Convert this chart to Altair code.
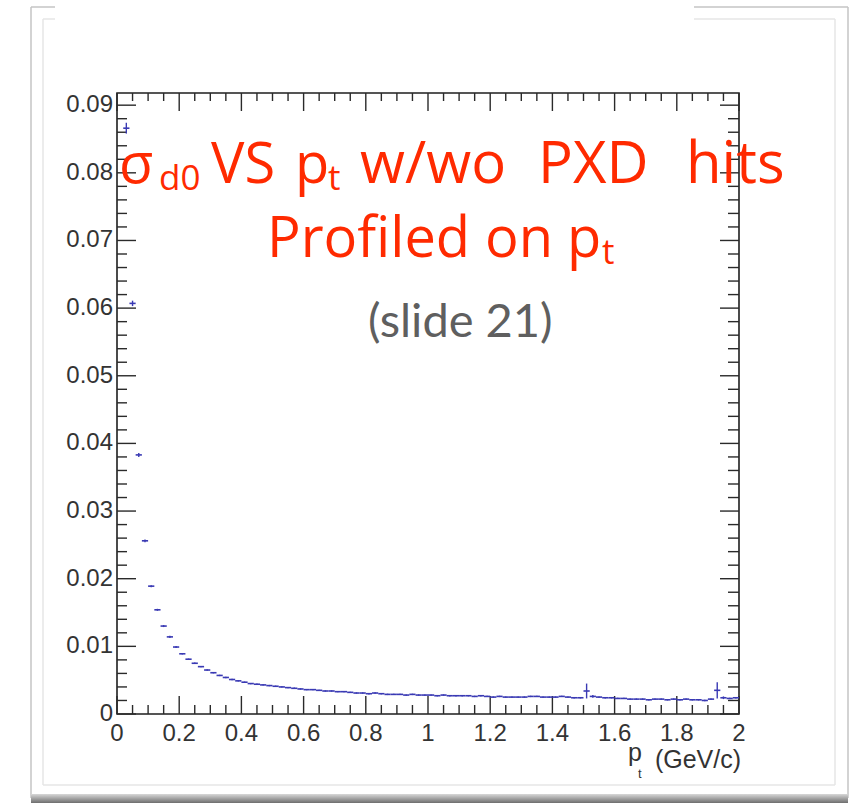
import altair as alt
import pandas as pd

# ---- data: profile of sigma_d0 vs pt (bin centres, mean, error) ----
pt_center = [
    0.03, 0.05, 0.07, 0.09, 0.11, 0.13, 0.15, 0.17, 0.19, 0.21,
    0.23, 0.25, 0.27, 0.29, 0.31, 0.33, 0.35, 0.37, 0.39, 0.41,
    0.43, 0.45, 0.47, 0.49, 0.51, 0.53, 0.55, 0.57, 0.59, 0.61,
    0.63, 0.65, 0.67, 0.69, 0.71, 0.73, 0.75, 0.77, 0.79, 0.81,
    0.83, 0.85, 0.87, 0.89, 0.91, 0.93, 0.95, 0.97, 0.99, 1.01,
    1.03, 1.05, 1.07, 1.09, 1.11, 1.13, 1.15, 1.17, 1.19, 1.21,
    1.23, 1.25, 1.27, 1.29, 1.31, 1.33, 1.35, 1.37, 1.39, 1.41,
    1.43, 1.45, 1.47, 1.49, 1.51, 1.53, 1.55, 1.57, 1.59, 1.61,
    1.63, 1.65, 1.67, 1.69, 1.71, 1.73, 1.75, 1.77, 1.79, 1.81,
    1.83, 1.85, 1.87, 1.89, 1.91, 1.93, 1.95, 1.97, 1.99,
]
sigma_d0 = [
    0.0866, 0.0607, 0.0383, 0.0256, 0.0189, 0.0154, 0.0130, 0.0114, 0.0099, 0.0089,
    0.0081, 0.0075, 0.0070, 0.0065, 0.0061, 0.0057, 0.0054, 0.0051, 0.0049, 0.0047,
    0.0045, 0.0044, 0.0043, 0.0042, 0.0041, 0.0040, 0.0039, 0.0038, 0.0037, 0.0036,
    0.0036, 0.0035, 0.0034, 0.0034, 0.0033, 0.0033, 0.0032, 0.0031, 0.0031, 0.0030,
    0.0031, 0.0030, 0.0029, 0.0029, 0.0029, 0.0028, 0.0029, 0.0028, 0.0028, 0.0028,
    0.0027, 0.0028, 0.0027, 0.0027, 0.0027, 0.0027, 0.0026, 0.0027, 0.0026, 0.0025,
    0.0026, 0.0025, 0.0025, 0.0025, 0.0025, 0.0026, 0.0026, 0.0025, 0.0025, 0.0025,
    0.0026, 0.0025, 0.0024, 0.0024, 0.0034, 0.0026, 0.0025, 0.0024, 0.0024, 0.0023,
    0.0023, 0.0022, 0.0022, 0.0022, 0.0021, 0.0022, 0.0022, 0.0021, 0.0022, 0.0021,
    0.0022, 0.0021, 0.0021, 0.0020, 0.0022, 0.0035, 0.0024, 0.0023, 0.0024,
]
sigma_err = [
    0.0008, 0.0004, 0.0003, 0.0002, 0.00015, 0.00015, 0.00015, 0.00015, 0.00015, 0.0001,
    0.0001, 0.0001, 0.0001, 0.0001, 0.0001, 0.0001, 0.0001, 0.0001, 0.0001, 0.0001,
    0.0001, 0.0001, 0.0001, 0.0001, 0.0001, 0.0001, 0.0001, 0.0001, 0.0001, 0.0001,
    0.0001, 0.0001, 0.0001, 0.0001, 0.0001, 0.0001, 0.0001, 0.0001, 0.0001, 0.0001,
    0.0001, 0.0001, 0.0001, 0.0001, 0.0001, 0.0001, 0.0001, 0.0001, 0.0001, 0.0001,
    0.0001, 0.0001, 0.0001, 0.0001, 0.0001, 0.0001, 0.0001, 0.0001, 0.0001, 0.0001,
    0.0001, 0.0001, 0.0001, 0.0001, 0.0001, 0.0001, 0.0001, 0.0001, 0.0001, 0.0001,
    0.0001, 0.0001, 0.0001, 0.0001, 0.0011, 0.0002, 0.0001, 0.0001, 0.0001, 0.0001,
    0.0001, 0.0001, 0.0001, 0.0001, 0.0001, 0.0001, 0.0001, 0.0001, 0.0001, 0.0001,
    0.0001, 0.0001, 0.0001, 0.0001, 0.0001, 0.0012, 0.0002, 0.0001, 0.0001,
]
bin_half_width = 0.01

x_major_ticks = [0.0, 0.2, 0.4, 0.6, 0.8, 1.0, 1.2, 1.4, 1.6, 1.8, 2.0]
x_tick_labels = ["0", "0.2", "0.4", "0.6", "0.8", "1", "1.2", "1.4", "1.6", "1.8", "2"]
y_major_ticks = [0.0, 0.01, 0.02, 0.03, 0.04, 0.05, 0.06, 0.07, 0.08, 0.09]
y_tick_labels = ["0", "0.01", "0.02", "0.03", "0.04", "0.05", "0.06", "0.07", "0.08", "0.09"]
x_minor_ticks = [round(m + k * 0.05, 3) for m in x_major_ticks[:-1] for k in (1, 2, 3)]
y_minor_ticks = [round(m + k * 0.002, 4) for m in y_major_ticks for k in (1, 2, 3, 4)]
y_minor_ticks = [v for v in y_minor_ticks if v <= 0.0918]

# ---- geometry ----
OX, OY = 117, 93          # plot origin in page pixels
W, H = 622, 621           # plot area
XS = alt.Scale(domain=[0, 2], nice=False, zero=False)
YS = alt.Scale(domain=[0, 0.0918], nice=False, zero=False)
BLUE = "#3a3ab4"
RED = "#ff2a00"
GRAY = "#5f5f5f"
LABEL_FONT = "Liberation Sans"
TITLE_FONT = "Open Sans"

df = pd.DataFrame({"pt": pt_center, "s": sigma_d0, "e": sigma_err})
df["lo_x"] = df["pt"] - bin_half_width
df["hi_x"] = df["pt"] + bin_half_width
df["lo_y"] = df["s"] - df["e"]
df["hi_y"] = df["s"] + df["e"]

one = pd.DataFrame({"a": [0]})


def px(x):
    return x - OX


def py(y):
    return y - OY


def hline(x1, x2, y, color, width=1.5):
    return alt.Chart(one).mark_rule(color=color, strokeWidth=width).encode(
        x=alt.value(px(x1)), x2=alt.value(px(x2)), y=alt.value(py(y)))


def vline(x, y1, y2, color, width=1.5):
    return alt.Chart(one).mark_rule(color=color, strokeWidth=width).encode(
        x=alt.value(px(x)), y=alt.value(py(y1)), y2=alt.value(py(y2)))


def label(txt, x, y, size, color, font=TITLE_FONT, align="left"):
    return alt.Chart(one).mark_text(
        text=txt, align=align, baseline="alphabetic", font=font,
        fontSize=size, color=color).encode(x=alt.value(px(x)), y=alt.value(py(y)))


# ---- slide frame decorations ----
OUT, IN = "#c4c4c4", "#e6e6e6"
deco = [
    vline(31, 7, 798, OUT), vline(848, 7, 798, OUT),
    hline(31, 55, 7, OUT), hline(694, 848, 7, OUT),
    vline(43, 19, 785, IN), vline(835, 19, 785, IN),
    hline(43, 55, 19, IN), hline(694, 835, 19, IN),
    hline(43, 835, 785, IN),
    alt.Chart(one).mark_rect(
        fill=alt.Gradient(gradient="linear", x1=0, y1=0, x2=0, y2=1,
                          stops=[alt.GradientStop(color="#d8d8d8", offset=0),
                                 alt.GradientStop(color="#6e6e6e", offset=1)])
    ).encode(x=alt.value(px(31)), x2=alt.value(px(848)),
             y=alt.value(py(794)), y2=alt.value(py(803))),
]

# ---- ticks (ROOT style, inside, on all four sides) ----
xt_major = pd.DataFrame({"v": x_major_ticks})
xt_minor = pd.DataFrame({"v": x_minor_ticks})
yt_major = pd.DataFrame({"v": y_major_ticks})
yt_minor = pd.DataFrame({"v": y_minor_ticks})
TK = "#2a2a2a"


def xticks(d, length, top):
    y0 = 0 if top else H
    y1 = length if top else H - length
    return alt.Chart(d).mark_rule(color=TK, strokeWidth=1.4).encode(
        x=alt.X("v:Q", scale=XS, axis=None), y=alt.value(y0), y2=alt.value(y1))


def yticks(d, length, right):
    x0 = W if right else 0
    x1 = W - length if right else length
    return alt.Chart(d).mark_rule(color=TK, strokeWidth=1.4).encode(
        y=alt.Y("v:Q", scale=YS, axis=None), x=alt.value(x0), x2=alt.value(x1))


ticks = [
    xticks(xt_major, 18, False), xticks(xt_minor, 9, False),
    xticks(xt_major, 18, True), xticks(xt_minor, 8, True),
    yticks(yt_major, 19, False), yticks(yt_minor, 10, False),
    yticks(yt_major, 19, True), yticks(yt_minor, 11, True),
]

# ---- tick labels ----
xl = pd.DataFrame({"v": x_major_ticks, "t": x_tick_labels})
yl = pd.DataFrame({"v": y_major_ticks, "t": y_tick_labels})
x_labels = alt.Chart(xl).mark_text(
    font=LABEL_FONT, fontSize=24, color="#333333", baseline="alphabetic", align="center"
).encode(x=alt.X("v:Q", scale=XS, axis=None), y=alt.value(py(741)), text="t:N")
y_labels = alt.Chart(yl).mark_text(
    font=LABEL_FONT, fontSize=24, color="#333333", baseline="middle", align="right"
).encode(y=alt.Y("v:Q", scale=YS, axis=None), x=alt.value(-4), text="t:N")

# ---- profile points ----
hbars = alt.Chart(df).mark_rule(color=BLUE, strokeWidth=1.6).encode(
    x=alt.X("lo_x:Q", scale=XS, axis=None), x2="hi_x:Q",
    y=alt.Y("s:Q", scale=YS, axis=None))
vbars = alt.Chart(df).mark_rule(color=BLUE, strokeWidth=1.4).encode(
    x=alt.X("pt:Q", scale=XS, axis=None),
    y=alt.Y("lo_y:Q", scale=YS, axis=None), y2="hi_y:Q")

# ---- axis title ----
axis_title = [
    label("p", 628, 761, 25, "#333333", font=LABEL_FONT),
    label("t", 638, 778, 13, "#333333", font=LABEL_FONT),
    label("(GeV/c)", 741, 768, 25, "#333333", font=LABEL_FONT, align="right"),
]

# ---- overlay annotation ----
overlay = [
    label("σ", 119, 183, 56, RED),
    label("d0", 159, 190, 35, RED),
    label("VS", 211, 183, 56, RED),
    label("p", 295, 183, 56, RED),
    label("t", 328, 190, 35, RED),
    label("w/wo", 360, 183, 58, RED),
    label("PXD", 538, 183, 58, RED),
    label("hits", 686, 183, 58, RED),
    label("Profiled", 267, 257, 56, RED),
    label("on", 485, 257, 56, RED),
    label("p", 567, 257, 56, RED),
    label("t", 602, 264, 35, RED),
    label("(slide 21)", 368, 337, 47, GRAY, font="Lato"),
]

chart = alt.layer(
    *deco, *ticks, hbars, vbars, x_labels, y_labels, *axis_title, *overlay
).properties(
    width=W, height=H,
    padding={"left": OX, "top": OY, "right": 851 - OX - W, "bottom": 803 - OY - H},
    autosize=alt.AutoSizeParams(type="none"),
    background="white",
).configure_view(stroke="#1e1e1e", strokeWidth=1.6)

chart.save("out.html", embed_options={"renderer": "svg", "actions": False})
